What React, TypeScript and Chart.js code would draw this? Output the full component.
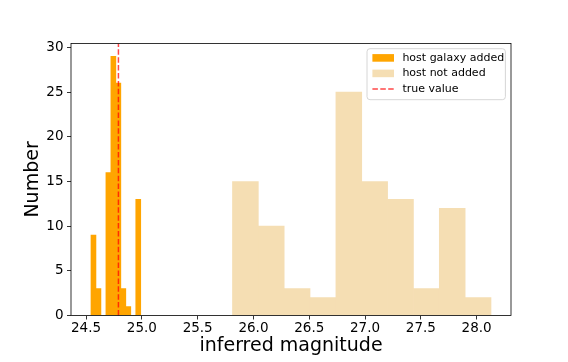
import React, { useEffect, useRef } from "react";
import { Chart, registerables } from "chart.js";

Chart.register(...registerables);

// Histogram bin centres (inferred magnitude) and counts
const hostAddedCenters = [24.5663, 24.6109, 24.6555, 24.7001, 24.7447, 24.7893, 24.8339, 24.8785, 24.9231, 24.9677];
const hostAddedCounts = [9, 3, 0, 16, 29, 26, 3, 1, 0, 13];
const hostNotAddedCenters = [25.9279, 26.1596, 26.3912, 26.6229, 26.8546, 27.0863, 27.318, 27.5496, 27.7813, 28.013];
const hostNotAddedCounts = [15, 10, 3, 2, 25, 15, 13, 3, 12, 2];
const trueValue = 24.79;

const xTicks = [24.5, 25.0, 25.5, 26.0, 26.5, 27.0, 27.5, 28.0];
const yTicks = [0, 5, 10, 15, 20, 25, 30];
const xLimits = [24.365, 28.308];
const yLimits = [0, 30.45];

const legendLabels = ["host galaxy added", "host not added", "true value"];

const FONT = "'DejaVu Sans', sans-serif";
const ORANGE = "#FFA500";
const WHEAT = "#F5DEB3";
const RED = "rgba(255,0,0,0.72)";

const framePlugin = {
  id: "frame",
  afterDatasetsDraw(chart: any) {
    const { ctx, chartArea: a } = chart;
    ctx.save();
    ctx.strokeStyle = "#000";
    ctx.lineWidth = 0.8;
    ctx.strokeRect(a.left, a.top, a.right - a.left, a.bottom - a.top);
    ctx.restore();
  },
};

const legendPlugin = {
  id: "mplLegend",
  afterDraw(chart: any) {
    const { ctx, chartArea: a } = chart;
    const x0 = a.right - 144;
    const y0 = a.top + 5.3;
    const w = 138.4;
    const h = 51;
    ctx.save();
    ctx.beginPath();
    const r = 3;
    ctx.moveTo(x0 + r, y0);
    ctx.lineTo(x0 + w - r, y0);
    ctx.quadraticCurveTo(x0 + w, y0, x0 + w, y0 + r);
    ctx.lineTo(x0 + w, y0 + h - r);
    ctx.quadraticCurveTo(x0 + w, y0 + h, x0 + w - r, y0 + h);
    ctx.lineTo(x0 + r, y0 + h);
    ctx.quadraticCurveTo(x0, y0 + h, x0, y0 + h - r);
    ctx.lineTo(x0, y0 + r);
    ctx.quadraticCurveTo(x0, y0, x0 + r, y0);
    ctx.closePath();
    ctx.fillStyle = "rgba(255,255,255,0.8)";
    ctx.fill();
    ctx.strokeStyle = "#cccccc";
    ctx.lineWidth = 0.8;
    ctx.stroke();

    const hx = x0 + 5.4;
    const hw = 21.6;
    const rows = [y0 + 9.2, y0 + 24.7, y0 + 40.3];
    const colors = [ORANGE, WHEAT];
    for (let i = 0; i < 2; i++) {
      ctx.fillStyle = colors[i];
      ctx.fillRect(hx, rows[i] - 3.8, hw, 7.6);
    }
    ctx.beginPath();
    ctx.setLineDash([5.5, 2.4]);
    ctx.strokeStyle = RED;
    ctx.lineWidth = 1.5;
    ctx.moveTo(hx, rows[2]);
    ctx.lineTo(hx + hw, rows[2]);
    ctx.stroke();
    ctx.setLineDash([]);

    ctx.fillStyle = "#000";
    ctx.font = `11px ${FONT}`;
    ctx.textBaseline = "middle";
    ctx.textAlign = "left";
    legendLabels.forEach((t, i) => ctx.fillText(t, x0 + 35.4, rows[i]));
    ctx.restore();
  },
};

export default function App() {
  const ref = useRef<HTMLCanvasElement>(null);

  useEffect(() => {
    if (!ref.current) return;
    const tickFont = { family: FONT, size: 13.5 };
    const chart = new Chart(ref.current, {
      type: "bar",
      data: {
        datasets: [
          {
            type: "line",
            label: legendLabels[2],
            data: [
              { x: trueValue, y: yLimits[0] },
              { x: trueValue, y: yLimits[1] },
            ],
            borderColor: RED,
            borderWidth: 1.5,
            borderDash: [5.5, 2.4],
            pointRadius: 0,
            xAxisID: "x",
            order: 0,
          } as any,
          {
            label: legendLabels[0],
            data: hostAddedCenters.map((c, i) => ({ x: c, y: hostAddedCounts[i] })),
            backgroundColor: ORANGE,
            borderWidth: 0,
            barPercentage: 1,
            categoryPercentage: 1,
            grouped: false,
            xAxisID: "x",
            order: 1,
          },
          {
            label: legendLabels[1],
            data: hostNotAddedCenters.map((c, i) => ({ x: c, y: hostNotAddedCounts[i] })),
            backgroundColor: WHEAT,
            borderWidth: 0,
            barPercentage: 1,
            categoryPercentage: 1,
            grouped: false,
            xAxisID: "x2",
            order: 2,
          },
        ],
      },
      options: {
        animation: false,
        responsive: true,
        maintainAspectRatio: false,
        devicePixelRatio: 1,
        layout: { padding: { left: 0, top: 43.4, right: 57, bottom: 0 } },
        plugins: { legend: { display: false }, tooltip: { enabled: false } },
        scales: {
          x: {
            type: "linear",
            position: "bottom",
            offset: false,
            bounds: "data",
            min: xLimits[0],
            max: xLimits[1],
            afterBuildTicks: (s: any) => {
              s.ticks = xTicks.map((v) => ({ value: v }));
            },
            afterFit: (s: any) => {
              s.height = 46.5;
            },
            ticks: {
              callback: (v: any) => Number(v).toFixed(1),
              color: "#000",
              font: tickFont,
              padding: 1,
              maxRotation: 0,
              autoSkip: false,
            },
            grid: { offset: false, drawOnChartArea: false, tickLength: 4, tickColor: "#000", tickWidth: 0.8 },
            border: { display: false },
            title: {
              display: true,
              text: "inferred magnitude",
              color: "#000",
              font: { family: FONT, size: 19 },
              padding: { top: 0, bottom: 5 },
            },
          },
          x2: {
            type: "linear",
            position: "bottom",
            display: false,
            offset: false,
            bounds: "data",
            min: xLimits[0],
            max: xLimits[1],
            grid: { offset: false },
            afterBuildTicks: (s: any) => {
              s.ticks = xTicks.map((v) => ({ value: v }));
            },
          },
          y: {
            type: "linear",
            position: "left",
            min: yLimits[0],
            max: yLimits[1],
            afterBuildTicks: (s: any) => {
              s.ticks = yTicks.map((v) => ({ value: v }));
            },
            afterFit: (s: any) => {
              s.width = 71;
            },
            ticks: {
              callback: (v: any) => String(v),
              color: "#000",
              font: tickFont,
              padding: 3.5,
              autoSkip: false,
            },
            grid: { drawOnChartArea: false, tickLength: 4, tickColor: "#000", tickWidth: 0.8 },
            border: { display: false },
            title: {
              display: true,
              text: "Number",
              color: "#000",
              font: { family: FONT, size: 19 },
              padding: { top: 22, bottom: 0 },
            },
          },
        },
      } as any,
      plugins: [framePlugin, legendPlugin],
    });
    return () => chart.destroy();
  }, []);

  return (
    <div style={{ position: "absolute", left: 0, top: 0, width: 568, height: 362, background: "#fff" }}>
      <canvas ref={ref} />
    </div>
  );
}
